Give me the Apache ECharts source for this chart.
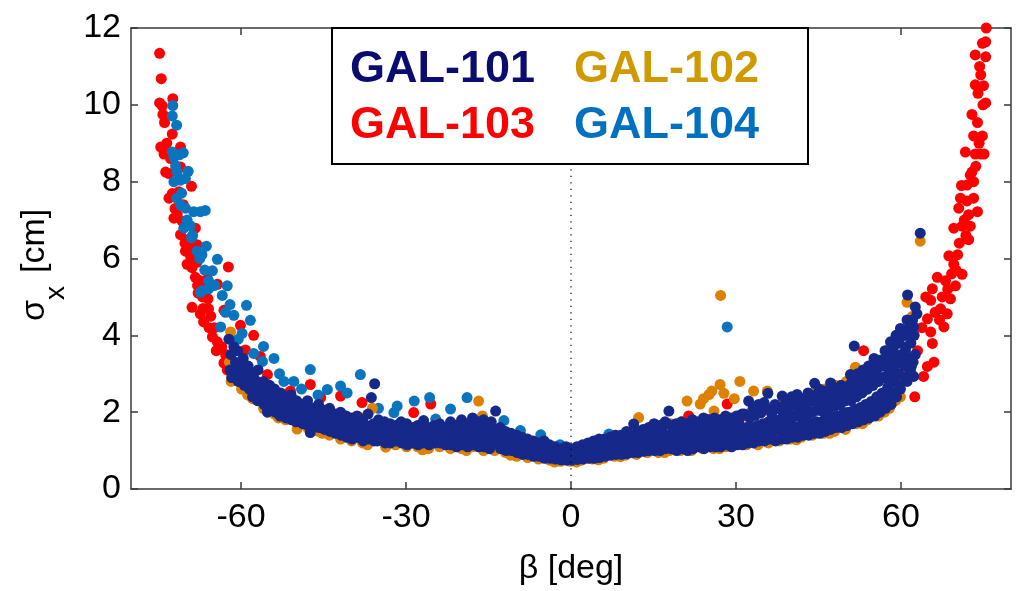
<!DOCTYPE html>
<html>
<head>
<meta charset="utf-8">
<script src="https://cdn.jsdelivr.net/npm/echarts@6/dist/echarts.min.js"></script>
<style>
  html, body { margin: 0; padding: 0; background: #fff; }
  #chart { width: 1019px; height: 591px; }
</style>
</head>
<body>
<div id="chart"></div>
<script>
// β [deg], σx [cm] samples per gauge
const gal101 = [
  [-62.2,3.9],[-61.8,3.5],[-62.0,3.1],[-61.7,2.9],[-61.3,3.7],[-61.0,3.3],[-61.4,3.0],
  [-60.6,3.6],[-60.3,3.2],[-60.5,2.8],[-59.6,3.4],[-59.8,3.0],[-59.4,2.7],
  [-58.7,3.2],[-58.9,2.9],[-58.5,2.6],[-57.8,3.0],[-57.6,2.7],[-57.9,2.4],
  [-56.9,3.1],[-56.7,2.6],[-57.0,2.3],[-55.9,2.8],[-56.1,2.5],[-55.8,2.2],
  [-54.8,2.7],[-55.0,2.3],[-55.2,2.0],[-53.9,2.6],[-54.1,2.3],[-53.8,2.0],
  [-52.8,2.5],[-53.0,2.2],[-52.9,1.9],[-51.9,2.4],[-52.1,2.1],[-51.8,1.85],
  [-50.9,2.45],[-51.1,2.0],[-50.8,1.8],[-49.9,2.3],[-50.1,2.0],[-50.0,1.75],
  [-48.9,2.2],[-49.1,1.9],[-48.8,1.7],[-47.9,2.3],[-48.1,1.95],[-47.8,1.65],
  [-47.0,2.1],[-46.8,1.8],[-47.4,1.47],[-45.9,2.2],[-46.1,1.85],[-45.8,1.6],
  [-44.9,2.05],[-45.1,1.75],[-44.8,1.55],[-43.9,2.1],[-44.1,1.7],[-43.8,1.5],
  [-42.9,1.95],[-43.1,1.65],[-42.8,1.45],[-41.9,2.0],[-42.1,1.7],[-41.8,1.4],
  [-40.9,1.9],[-41.1,1.6],[-40.8,1.35],[-39.9,1.85],[-40.1,1.55],[-39.8,1.3],
  [-38.9,1.9],[-39.1,1.6],[-38.8,1.35],[-37.9,1.8],[-38.1,1.5],[-37.8,1.25],
  [-36.9,1.95],[-37.1,1.55],[-36.8,1.3],[-36.3,2.38],[-35.9,1.7],[-36.1,1.45],[-35.8,1.25],
  [-35.7,2.74],[-35.0,1.8],[-34.8,1.5],[-35.2,1.25],[-33.9,1.75],[-34.1,1.45],[-33.8,1.2],
  [-32.9,1.7],[-33.1,1.4],[-32.8,1.2],[-31.9,1.65],[-32.1,1.4],[-31.8,1.25],
  [-30.9,1.75],[-31.1,1.45],[-30.8,1.2],[-29.9,1.7],[-30.1,1.4],[-29.8,1.15],
  [-28.9,1.6],[-29.1,1.35],[-28.8,1.2],[-27.9,1.65],[-28.1,1.4],[-27.8,1.15],
  [-26.8,1.78],[-27.1,1.4],[-26.9,1.2],[-25.9,1.6],[-26.1,1.35],[-25.8,1.15],
  [-24.9,1.65],[-25.1,1.4],[-24.8,1.2],[-23.9,1.7],[-24.1,1.45],[-23.8,1.2],
  [-22.9,1.6],[-23.1,1.35],[-22.8,1.15],[-21.9,1.75],[-22.1,1.4],[-21.8,1.15],
  [-20.9,1.65],[-21.1,1.35],[-20.8,1.1],[-19.9,1.8],[-20.1,1.45],[-19.8,1.15],
  [-18.9,1.7],[-19.1,1.4],[-18.8,1.1],[-17.9,1.85],[-18.1,1.5],[-17.8,1.15],
  [-16.9,1.75],[-17.1,1.45],[-16.8,1.1],[-15.9,1.8],[-16.1,1.4],[-15.8,1.1],
  [-14.9,1.7],[-15.1,1.35],[-14.8,1.05],[-13.7,2.03],[-14.1,1.55],[-13.8,1.2],
  [-12.9,1.6],[-13.1,1.3],[-12.8,1.05],[-11.9,1.5],[-12.1,1.25],[-11.8,1.0],
  [-10.9,1.45],[-11.1,1.2],[-10.8,1.0],[-9.9,1.4],[-10.1,1.15],[-9.8,0.95],
  [-8.9,1.35],[-9.1,1.1],[-8.8,0.9],[-7.9,1.3],[-8.1,1.05],[-7.8,0.9],
  [-6.9,1.25],[-7.1,1.05],[-6.8,0.85],[-5.9,1.2],[-6.1,1.0],[-5.8,0.85],
  [-4.9,1.25],[-5.1,1.0],[-4.8,0.8],[-3.9,1.15],[-4.1,0.95],[-3.8,0.8],
  [-2.9,1.1],[-3.1,0.95],[-2.8,0.78],[-1.9,1.05],[-2.1,0.9],[-1.8,0.76],
  [-0.9,1.1],[-1.1,0.9],[-0.8,0.75],[0.1,1.05],[-0.1,0.88],[0.2,0.75],
  [1.1,1.1],[0.9,0.9],[1.2,0.77],[2.1,1.15],[1.9,0.95],[2.2,0.78],
  [3.1,1.2],[2.9,0.95],[3.2,0.8],[4.1,1.25],[3.9,1.0],[4.2,0.8],
  [5.1,1.3],[4.9,1.05],[5.2,0.82],[6.1,1.3],[5.9,1.05],[6.2,0.85],
  [7.1,1.35],[6.9,1.1],[7.2,0.88],[8.1,1.4],[7.9,1.1],[8.2,0.9],
  [9.1,1.4],[8.9,1.15],[9.2,0.9],[10.1,1.5],[9.9,1.2],[10.2,0.92],
  [11.4,1.69],[10.9,1.25],[11.2,0.95],[12.1,1.5],[11.9,1.2],[12.2,0.95],
  [13.1,1.55],[12.9,1.25],[13.2,0.98],[14.1,1.6],[13.9,1.3],[14.2,1.0],
  [15.1,1.7],[14.9,1.3],[15.2,1.0],[16.1,1.65],[15.9,1.3],[16.2,1.0],
  [17.1,1.75],[16.9,1.35],[17.2,1.05],[17.8,2.03],[17.9,1.4],[18.2,1.05],
  [19.1,1.7],[18.9,1.35],[19.2,1.0],[20.1,1.75],[19.9,1.4],[20.2,1.05],
  [21.1,1.7],[20.9,1.35],[21.2,1.0],[22.1,1.8],[21.9,1.4],[22.2,1.05],
  [23.1,1.75],[22.9,1.4],[23.2,1.1],[24.1,1.85],[23.9,1.45],[24.2,1.05],
  [25.1,1.8],[24.9,1.4],[25.2,1.1],[26.1,1.85],[25.9,1.45],[26.2,1.1],
  [27.1,1.8],[26.9,1.45],[27.2,1.1],[28.1,1.9],[27.9,1.5],[28.2,1.15],
  [29.1,1.85],[28.9,1.45],[29.2,1.1],[30.1,1.9],[29.9,1.5],[30.2,1.15],
  [31.1,1.95],[30.9,1.55],[31.2,1.15],[32.3,2.29],[31.9,1.6],[32.2,1.2],
  [33.1,2.1],[32.9,1.6],[33.2,1.2],[34.1,2.2],[33.9,1.65],[34.2,1.25],
  [35.1,2.25],[34.9,1.7],[35.2,1.25],[35.8,2.49],[35.9,1.75],[36.2,1.3],
  [37.1,2.2],[36.9,1.7],[37.2,1.25],[38.4,2.42],[37.9,1.8],[38.2,1.3],
  [39.1,2.3],[38.9,1.75],[39.2,1.3],[40.1,2.4],[39.9,1.85],[40.2,1.35],
  [41.1,2.46],[40.9,1.9],[41.2,1.35],[42.1,2.35],[41.9,1.85],[42.2,1.4],
  [43.1,2.5],[42.9,1.95],[43.2,1.4],[44.3,2.75],[43.9,2.0],[44.2,1.45],
  [45.1,2.6],[44.9,2.05],[45.2,1.45],[46.1,2.55],[45.9,2.0],[46.2,1.5],
  [47.2,2.76],[46.9,2.1],[47.2,1.55],[48.1,2.6],[47.9,2.15],[48.2,1.6],
  [49.1,2.7],[48.9,2.2],[49.2,1.6],[50.8,2.98],[49.9,2.3],[50.2,1.65],
  [51.1,2.8],[50.9,2.3],[51.2,1.7],[51.5,3.72],[52.1,3.0],[51.9,2.4],[52.2,1.75],
  [53.1,3.1],[52.9,2.5],[53.2,1.8],[54.1,3.2],[53.9,2.6],[54.2,1.85],
  [55.1,3.4],[54.9,2.7],[55.2,1.9],[56.3,3.36],[55.9,2.8],[56.2,2.0],
  [57.1,3.6],[56.9,2.9],[57.2,2.1],[58.1,3.83],[57.9,3.1],[58.2,2.2],
  [59.1,4.0],[58.9,3.3],[59.2,2.4],[59.9,4.18],[60.1,3.5],[59.9,2.6],
  [61.2,5.05],[61.1,4.4],[60.9,3.7],[61.1,2.8],[62.3,4.22],[62.6,4.74],[62.9,4.56],
  [62.1,4.0],[61.9,3.2],[62.3,2.93],[62.6,3.5],[63.5,6.66],
  // in-between samples of the dense band
  [-59.5,3.2],[-59.5,2.85],[-58.5,3.05],[-58.4,2.75],[-57.5,2.85],[-57.4,2.5],
  [-56.5,2.75],[-56.4,2.4],[-55.5,2.55],[-55.4,2.15],[-54.5,2.5],[-54.4,2.1],
  [-53.5,2.4],[-53.4,2.05],[-52.5,2.3],[-52.4,2.0],[-51.5,2.2],[-51.4,1.95],
  [-50.5,2.15],[-50.4,1.88],[-49.5,2.1],[-49.4,1.82],[-48.5,2.05],[-48.4,1.78],
  [-47.5,1.95],[-47.4,1.7],[-46.5,2.0],[-46.4,1.72],[-45.5,1.9],[-45.4,1.65],
  [-44.5,1.88],[-44.4,1.62],[-43.5,1.82],[-43.4,1.55],[-42.5,1.8],[-42.4,1.52],
  [-41.5,1.75],[-41.4,1.48],[-40.5,1.7],[-40.4,1.45],[-39.5,1.72],[-39.4,1.42],
  [-38.5,1.65],[-38.4,1.4],[-37.5,1.68],[-37.4,1.4],[-36.5,1.6],[-36.4,1.35],
  [-35.5,1.62],[-35.4,1.38],[-34.5,1.6],[-34.4,1.32],[-33.5,1.55],[-33.4,1.3],
  [-32.5,1.52],[-32.4,1.3],[-31.5,1.6],[-31.4,1.32],[-30.5,1.55],[-30.4,1.28],
  [-29.5,1.48],[-29.4,1.27],[-28.5,1.52],[-28.4,1.28],[-27.5,1.58],[-27.4,1.3],
  [-26.5,1.48],[-26.4,1.25],[-25.5,1.52],[-25.4,1.3],[-24.5,1.58],[-24.4,1.32],
  [-23.5,1.48],[-23.4,1.25],[-22.5,1.58],[-22.4,1.28],[-21.5,1.5],[-21.4,1.22],
  [-20.5,1.62],[-20.4,1.3],[-19.5,1.55],[-19.4,1.25],[-18.5,1.68],[-18.4,1.32],
  [-17.5,1.6],[-17.4,1.28],[-16.5,1.6],[-16.4,1.25],[-15.5,1.52],[-15.4,1.2],
  [-14.5,1.75],[-14.4,1.38],[-13.5,1.45],[-13.4,1.18],[-12.5,1.38],[-12.4,1.12],
  [-11.5,1.32],[-11.4,1.1],[-10.5,1.28],[-10.4,1.05],[-9.5,1.22],[-9.4,1.0],
  [-8.5,1.18],[-8.4,0.98],[-7.5,1.15],[-7.4,0.95],[-6.5,1.1],[-6.4,0.92],
  [-5.5,1.12],[-5.4,0.9],[-4.5,1.05],[-4.4,0.88],[-3.5,1.02],[-3.4,0.86],
  [-2.5,0.98],[-2.4,0.83],[-1.5,1.0],[-1.4,0.82],[-0.5,0.97],[-0.4,0.82],
  [0.5,1.0],[0.6,0.83],[1.5,1.05],[1.6,0.86],[2.5,1.08],[2.6,0.87],
  [3.5,1.12],[3.6,0.9],[4.5,1.18],[4.6,0.92],[5.5,1.18],[5.6,0.95],
  [6.5,1.22],[6.6,0.97],[7.5,1.25],[7.6,1.0],[8.5,1.28],[8.6,1.02],
  [9.5,1.35],[9.6,1.05],[10.5,1.45],[10.6,1.08],[11.5,1.35],[11.6,1.08],
  [12.5,1.4],[12.6,1.1],[13.5,1.45],[13.6,1.15],[14.5,1.5],[14.6,1.15],
  [15.5,1.48],[15.6,1.15],[16.5,1.55],[16.6,1.2],[17.5,1.7],[17.6,1.22],
  [18.5,1.52],[18.6,1.18],[19.5,1.58],[19.6,1.22],[20.5,1.52],[20.6,1.18],
  [21.5,1.6],[21.6,1.22],[22.5,1.58],[22.6,1.25],[23.5,1.65],[23.6,1.25],
  [24.5,1.6],[24.6,1.25],[25.5,1.65],[25.6,1.28],[26.5,1.62],[26.6,1.28],
  [27.5,1.7],[27.6,1.32],[28.5,1.65],[28.6,1.28],[29.5,1.7],[29.6,1.32],
  [30.5,1.75],[30.6,1.35],[31.5,1.95],[31.6,1.4],[32.5,1.85],[32.6,1.4],
  [33.5,1.92],[33.6,1.45],[34.5,1.98],[34.6,1.48],[35.5,2.1],[35.6,1.52],
  [36.5,1.95],[36.6,1.48],[37.5,2.1],[37.6,1.55],[38.5,2.02],[38.6,1.52],
  [39.5,2.12],[39.6,1.6],[40.5,2.18],[40.6,1.62],[41.5,2.1],[41.6,1.62],
  [42.5,2.22],[42.6,1.68],[43.5,2.35],[43.6,1.72],[44.5,2.32],[44.6,1.75],
  [45.5,2.28],[45.6,1.75],[46.5,2.42],[46.6,1.82],[47.5,2.38],[47.6,1.88],
  [48.5,2.45],[48.6,1.9],[49.5,2.6],[49.6,1.98],[50.5,2.55],[50.6,2.0],
  [51.5,2.7],[51.6,2.08],[52.5,2.75],[52.6,2.12],[53.5,2.85],[53.6,2.2],
  [54.5,2.95],[54.6,2.28],[55.5,3.05],[55.6,2.4],[56.5,3.2],[56.6,2.5],
  [57.5,3.35],[57.6,2.65],[58.5,3.55],[58.6,2.8],[59.5,3.8],[59.6,3.0],
  [60.5,4.0],[60.6,3.2],[61.5,4.2],[61.6,3.4],
  // extra fill where the band widens towards +60°
  [38.7,1.55],[38.8,1.85],[38.6,2.15],[39.7,1.55],[39.8,1.85],[39.6,2.1],
  [40.7,1.6],[40.8,1.9],[40.6,2.2],[41.7,1.6],[41.8,1.95],[41.6,2.25],
  [42.7,1.62],[42.8,1.9],[42.6,2.15],[43.7,1.65],[43.8,2.0],[43.6,2.28],
  [44.7,1.7],[44.8,2.1],[44.6,2.45],[45.7,1.72],[45.8,2.12],[45.6,2.4],
  [46.7,1.72],[46.8,2.15],[46.6,2.35],[47.7,1.8],[47.8,2.22],[47.6,2.55],
  [48.7,1.82],[48.8,2.2],[48.6,2.45],[49.7,1.85],[49.8,2.3],[49.6,2.5],
  [50.7,1.9],[50.8,2.4],[50.6,2.7],[51.7,1.95],[51.8,2.45],[51.6,2.65],
  [52.7,2.0],[52.8,2.5],[52.6,2.8],[53.7,2.05],[53.8,2.6],[53.6,2.9],
  [54.7,2.1],[54.8,2.7],[54.6,3.0],[55.7,2.2],[55.8,2.8],[55.6,3.2],
  [56.7,2.3],[56.8,2.9],[56.6,3.2],[57.7,2.4],[57.8,3.0],[57.6,3.4],
  [58.7,2.5],[58.8,3.2],[58.6,3.6],[59.7,2.7],[59.8,3.4],[59.6,3.8],
  [60.7,2.9],[60.8,3.6],[60.6,4.0],[61.7,3.1],[61.8,3.8],[61.6,4.2],
  [62.2,3.3],[62.4,4.0],[62.1,4.4]
];

const gal102 = [
  [-61.9,4.09],[-62.1,3.3],[-61.8,2.8],[-60.1,3.2],[-59.9,2.6],[-58.1,2.9],[-57.9,2.35],
  [-56.1,2.6],[-55.9,2.1],[-54.1,2.5],[-53.9,1.95],[-52.1,2.3],[-51.9,1.8],
  [-50.1,2.1],[-49.8,1.56],[-48.1,2.0],[-47.9,1.6],[-46.1,1.9],[-45.9,1.5],
  [-44.1,1.8],[-43.9,1.4],[-41.9,1.3],[-42.1,1.75],[-40.1,1.7],[-39.9,1.25],
  [-38.1,1.85],[-37.9,1.2],[-36.1,2.1],[-35.9,1.3],[-33.7,1.09],[-34.1,1.6],
  [-32.1,1.55],[-31.9,1.15],[-30.1,1.65],[-29.9,1.1],[-28.1,1.5],[-27.9,1.1],
  [-26.1,1.55],[-25.9,1.05],[-24.1,1.7],[-23.9,1.1],[-22.1,1.6],[-21.9,1.05],
  [-20.1,1.65],[-19.9,1.05],[-18.1,1.7],[-17.9,1.1],[-16.8,2.29],[-16.1,1.9],[-15.9,1.0],
  [-14.1,1.55],[-13.9,1.0],[-12.1,1.4],[-11.9,0.95],[-10.1,1.3],[-9.9,0.85],
  [-8.1,1.2],[-7.9,0.82],[-6.1,1.15],[-5.9,0.78],[-4.1,1.05],[-3.9,0.75],
  [-2.1,1.0],[-1.9,0.72],[0.1,0.98],[-0.1,0.72],[2.1,1.05],[1.9,0.75],
  [4.1,1.1],[3.9,0.78],[6.1,1.2],[5.9,0.8],[8.1,1.3],[7.9,0.85],
  [10.1,1.4],[9.9,0.88],[12.3,1.86],[11.9,0.9],[14.1,1.5],[13.9,0.95],
  [16.1,1.6],[15.9,0.95],[18.1,1.7],[17.9,1.0],[20.1,1.75],[19.9,1.0],
  [21.1,2.29],[22.1,1.75],[21.9,1.0],[23.5,2.21],[24.1,2.35],[23.9,1.05],
  [25.1,2.46],[25.6,2.55],[26.0,2.03],[25.9,1.05],[27.1,2.72],[27.2,5.04],
  [27.8,2.49],[28.1,1.1],[29.7,2.35],[30.7,2.8],[32.1,1.95],[31.9,1.15],
  [33.2,2.55],[35.7,2.55],[36.1,2.1],[35.9,1.2],[38.1,2.2],[37.9,1.25],
  [40.1,2.3],[39.9,1.3],[42.1,2.35],[41.9,1.35],[44.1,2.5],[43.9,1.4],
  [46.1,2.6],[45.9,1.45],[48.1,2.7],[47.9,1.5],[50.1,2.8],[49.9,1.55],
  [51.7,3.17],[52.1,2.9],[51.9,1.7],[54.1,3.1],[53.9,1.8],[56.1,3.3],[55.9,1.9],
  [58.1,3.7],[57.9,2.1],[60.1,4.0],[59.9,2.4],[61.1,4.86],[62.1,4.5],[61.9,3.0],
  [63.5,6.45],
  [-58.8,2.45],[-53.2,1.85],[-45.2,1.45],[-37.0,1.15],[-27.0,1.02],[-19.0,1.0],
  [-11.0,0.88],[-3.0,0.7],[1.0,0.7],[5.0,0.76],[9.0,0.84],[17.0,0.95],[27.0,1.05],
  [34.0,1.15],[41.0,1.28],[47.0,1.45],[53.0,1.7],[57.0,2.0],[59.0,2.3]
];

const gal103 = [
  [-74.8,11.34],[-74.5,10.68],[-74.8,10.05],[-74.3,9.97],[-72.4,10.16],[-74.2,9.75],
  [-73.9,9.54],[-72.5,9.24],[-74.6,8.9],[-74.0,8.72],[-73.4,8.81],[-71.0,8.9],
  [-73.7,8.25],[-73.1,8.21],[-71.0,8.38],[-69.0,7.88],[-73.1,7.57],[-72.5,7.69],
  [-71.3,7.74],[-72.2,7.05],[-71.6,7.14],[-70.7,6.97],[-71.0,6.62],[-68.3,6.79],
  [-70.1,6.19],[-69.2,6.07],[-68.0,6.36],[-69.8,5.85],[-68.9,5.76],[-68.3,5.51],
  [-67.4,5.42],[-66.1,5.46],[-64.3,5.33],[-62.3,5.78],[-69.2,5.89],[-68.9,4.73],
  [-67.4,4.56],[-65.9,4.69],[-63.1,4.65],[-66.8,4.35],[-65.2,3.96],[-64.3,3.83],
  [-63.1,3.28],[-61.9,3.45],[-60.1,4.26],[-57.7,4.0],[-59.2,3.62],[-56.5,3.45],
  [-55.2,2.98],[-47.4,2.72],[-51.0,2.55],[-45.5,2.38],[-41.9,2.42],[-38.0,2.25],
  [-28.6,1.99],[-25.5,2.21],[-51.3,2.5],[-70.5,7.4],[-69.5,6.5],[-67.0,5.0],
  [-66.0,4.95],[-64.8,4.2],[-63.5,3.7],[-62.5,3.1],[-66.5,5.2],[-68.0,5.9],
  [-67.8,5.1],[-65.5,4.5],[-73.5,9.0],[-72.8,8.6],[-72.0,7.3],[-70.2,6.4],
  [-69.5,6.3],[-67.9,5.3],[-66.9,4.7],[-65.8,4.2],[-64.5,3.6],[-62.8,3.5],
  [-61.0,3.0],[-59.0,2.75],[-57.0,2.5],[-55.0,2.2],[-53.0,2.0],[-51.0,1.85],
  [-49.0,1.75],[-47.0,1.7],[-45.0,1.6],[-43.0,1.5],[-41.0,1.45],[-39.0,1.4],
  [-37.0,1.35],[-35.0,1.3],[-33.0,1.3],[-31.0,1.25],[-29.0,1.2],[-27.0,1.25],
  [-23.0,1.2],[-21.0,1.2],[-19.0,1.15],[-17.0,1.2],[-15.0,1.1],[-13.0,1.1],
  [-11.0,1.05],[-9.0,0.95],[-7.0,0.9],[-5.0,0.85],[-3.0,0.8],[-1.5,0.78],
  [0.5,0.8],[2.0,0.85],[4.0,0.85],[6.0,0.9],[8.0,0.95],[10.0,1.0],[12.0,1.05],
  [14.0,1.05],[16.0,1.1],[18.0,1.1],[20.0,1.15],[22.0,1.2],[24.0,1.2],[26.0,1.25],
  [28.0,1.3],[30.0,1.3],[32.0,1.35],[34.0,1.4],[36.0,1.45],[38.0,1.5],[40.0,1.55],
  [42.0,1.6],[44.0,1.65],[46.0,1.7],[48.0,1.8],[50.0,1.9],[52.0,2.0],[54.0,2.15],
  [56.0,2.3],[58.0,2.5],[60.0,2.9],[61.0,3.4],
  [28.4,2.21],[21.4,1.9],[31.1,1.9],[34.5,1.99],[36.3,2.03],[53.2,3.6],[-12.0,1.45],
  [9.0,1.35],[-20.0,1.6],[25.0,1.8],
  [61.5,3.0],[62.5,2.4],[63.0,3.6],[64.1,2.93],[64.8,3.19],[65.7,3.79],[65.4,4.09],
  [67.8,4.22],[64.8,4.43],[68.4,4.56],[67.2,4.69],[65.4,4.91],[69.0,4.95],[65.7,5.21],
  [69.9,5.29],[68.1,5.42],[66.6,5.51],[71.1,5.59],[69.6,5.85],[68.7,6.07],[72.3,6.49],
  [69.6,6.79],[71.1,6.84],[72.6,6.84],[72.3,7.14],[73.9,7.22],[70.5,7.31],[70.8,7.57],
  [73.2,7.57],[72.0,7.91],[73.2,8.0],[72.6,8.17],[71.7,8.77],[74.5,8.72],[73.5,8.72],
  [75.1,8.72],[72.9,8.25],[73.2,9.19],[74.8,9.19],[73.9,9.54],[72.9,9.75],[75.4,10.05],
  [74.9,10.0],[73.5,10.52],[74.5,10.78],[73.5,11.3],[75.4,11.25],[75.4,11.64],[75.5,12.0],
  [66.2,4.6],[67.5,5.0],[70.3,6.1],[71.8,6.6],[66.0,3.3],[63.8,4.2],[64.5,5.0],
  [67.0,4.4],[68.5,5.2],[69.2,5.6],[70.0,5.7],[70.6,6.4],[71.5,7.0],[72.0,7.5],
  [71.0,7.9],[73.6,8.4],[74.2,9.0],[74.0,10.3],[75.0,10.5],[74.3,11.0],[74.8,11.6]
];

const gal104 = [
  [-72.4,9.98],[-72.5,9.71],[-71.7,9.47],[-72.5,8.77],[-72.2,8.64],[-70.5,8.75],
  [-71.9,8.42],[-71.6,8.25],[-69.6,8.27],[-72.2,8.0],[-71.0,8.04],[-70.1,8.08],
  [-71.7,7.57],[-71.0,7.39],[-70.1,7.31],[-68.6,7.22],[-67.4,7.22],[-66.5,7.25],
  [-70.4,6.79],[-69.2,6.85],[-69.0,6.54],[-68.0,6.19],[-66.3,6.32],[-67.1,6.1],
  [-64.3,5.98],[-65.2,5.68],[-65.9,5.42],[-62.5,5.29],[-67.4,5.12],[-67.1,5.16],
  [-65.9,5.21],[-63.4,5.04],[-59.0,4.78],[-61.3,4.52],[-58.3,4.39],[-63.7,4.22],
  [-59.8,4.05],[-57.7,3.53],[-55.9,3.71],[-54.0,3.40],[-56.1,3.32],[-47.4,3.11],
  [-52.2,2.80],[-50.4,2.80],[-44.3,2.59],[-40.7,2.50],[-38.3,2.98],[-41.9,2.68],
  [-28.5,2.29],[-25.7,2.38],[-18.9,2.38],[-21.9,2.08],[-31.6,2.16],[-24.6,1.82],
  [-32.2,1.99],[-12.2,1.78],[-9.2,1.52],[-5.5,1.41],[-60.5,3.9],[-62.8,4.6],
  [-53.0,3.0],[-49.0,2.6],[-46.0,2.45],[-35.0,2.1],[-15.0,1.7],
  [-71.2,8.7],[-70.8,7.7],[-69.8,7.0],[-68.8,6.6],[-67.5,6.0],[-66.6,5.7],[-64.8,5.3],[-62.0,4.8],
  [6.9,1.43],[22.0,1.78],[28.4,4.22],[3.0,1.15],[15.0,1.45],[-2.0,1.15],
  [-30.0,1.5],[-20.0,1.4],[-10.0,1.2],[10.0,1.2],[20.0,1.35],[40.0,1.7],[50.0,2.0],[58.0,2.7]
];

const xTicks = [-60, -30, 0, 30, 60];
const zeroLine = [[0, 0], [0, 12]];

const FONT = '"Liberation Sans", Arial, Helvetica, sans-serif';
const AXIS_COLOR = '#3a3a3a';

const chart = echarts.init(document.getElementById('chart'), null, { renderer: 'canvas' });

function boxAxis(extra) {
  return Object.assign({
    type: 'value',
    axisLine: { show: true, onZero: false, lineStyle: { color: AXIS_COLOR, width: 1.5 } },
    axisTick: { show: true, inside: true, length: 7, lineStyle: { color: AXIS_COLOR, width: 1.5 } },
    splitLine: { show: false }
  }, extra);
}

function scatter(name, data, color) {
  return {
    name: name, type: 'scatter', data: data,
    symbol: 'circle', symbolSize: 11,
    itemStyle: { color: color, opacity: 1 },
    emphasis: { disabled: true }
  };
}

chart.setOption({
  animation: false,
  backgroundColor: '#fff',
  grid: { left: 131, right: 8, top: 28, bottom: 97 },
  xAxis: [
    boxAxis({
      position: 'bottom', min: -80, max: 80,
      axisTick: { show: true, inside: true, length: 7, customValues: xTicks, lineStyle: { color: AXIS_COLOR, width: 1.5 } },
      axisLabel: { customValues: xTicks, fontSize: 34, fontFamily: FONT, color: '#000', margin: 12 },
      name: 'β [deg]', nameLocation: 'middle', nameGap: 63,
      nameTextStyle: { fontSize: 34, fontFamily: FONT, color: '#000' }
    }),
    boxAxis({
      position: 'top', min: -80, max: 80,
      axisTick: { show: true, inside: true, length: 7, customValues: xTicks, lineStyle: { color: AXIS_COLOR, width: 1.5 } },
      axisLabel: { show: false }
    })
  ],
  yAxis: [
    boxAxis({
      position: 'left', min: 0, max: 12, interval: 2,
      axisLabel: { fontSize: 34, fontFamily: FONT, color: '#000', margin: 10 }
    }),
    boxAxis({
      position: 'right', min: 0, max: 12, interval: 2,
      axisLabel: { show: false }
    })
  ],
  series: [
    scatter('GAL-103', gal103, '#ff0000'),
    scatter('GAL-104', gal104, '#0a74bf'),
    scatter('GAL-102', gal102, '#de8100'),
    scatter('GAL-101', gal101, '#16298a'),
    {
      type: 'line', data: zeroLine, symbol: 'none', z: 5, silent: true,
      lineStyle: { color: '#000', width: 1.2, type: [1.2, 5.3] }
    }
  ],
  graphic: [
    {
      type: 'group', x: 0, y: 321, rotation: Math.PI / 2, z: 100,
      children: [
        { type: 'text', x: 0, y: 35, style: { text: 'σ', font: '34px ' + FONT, fill: '#000', textAlign: 'left', textVerticalAlign: 'middle' } },
        { type: 'text', x: 21, y: 56, style: { text: 'x', font: '28px ' + FONT, fill: '#000', textAlign: 'left', textVerticalAlign: 'middle' } },
        { type: 'text', x: 48, y: 35, style: { text: '[cm]', font: '34px ' + FONT, fill: '#000', textAlign: 'left', textVerticalAlign: 'middle' } }
      ]
    },
    {
      type: 'rect', z: 100,
      shape: { x: 332, y: 28, width: 476, height: 136 },
      style: { fill: '#fff', stroke: '#000', lineWidth: 2 }
    },
    { type: 'text', z: 101, x: 350, y: 70, style: { text: 'GAL-101', font: 'bold 45px ' + FONT, fill: '#0c0c70', textAlign: 'left', textVerticalAlign: 'middle' } },
    { type: 'text', z: 101, x: 574, y: 70, style: { text: 'GAL-102', font: 'bold 45px ' + FONT, fill: '#cf9a00', textAlign: 'left', textVerticalAlign: 'middle' } },
    { type: 'text', z: 101, x: 350, y: 126, style: { text: 'GAL-103', font: 'bold 45px ' + FONT, fill: '#ff0000', textAlign: 'left', textVerticalAlign: 'middle' } },
    { type: 'text', z: 101, x: 574, y: 126, style: { text: 'GAL-104', font: 'bold 45px ' + FONT, fill: '#0070c0', textAlign: 'left', textVerticalAlign: 'middle' } }
  ]
});
</script>
</body>
</html>
